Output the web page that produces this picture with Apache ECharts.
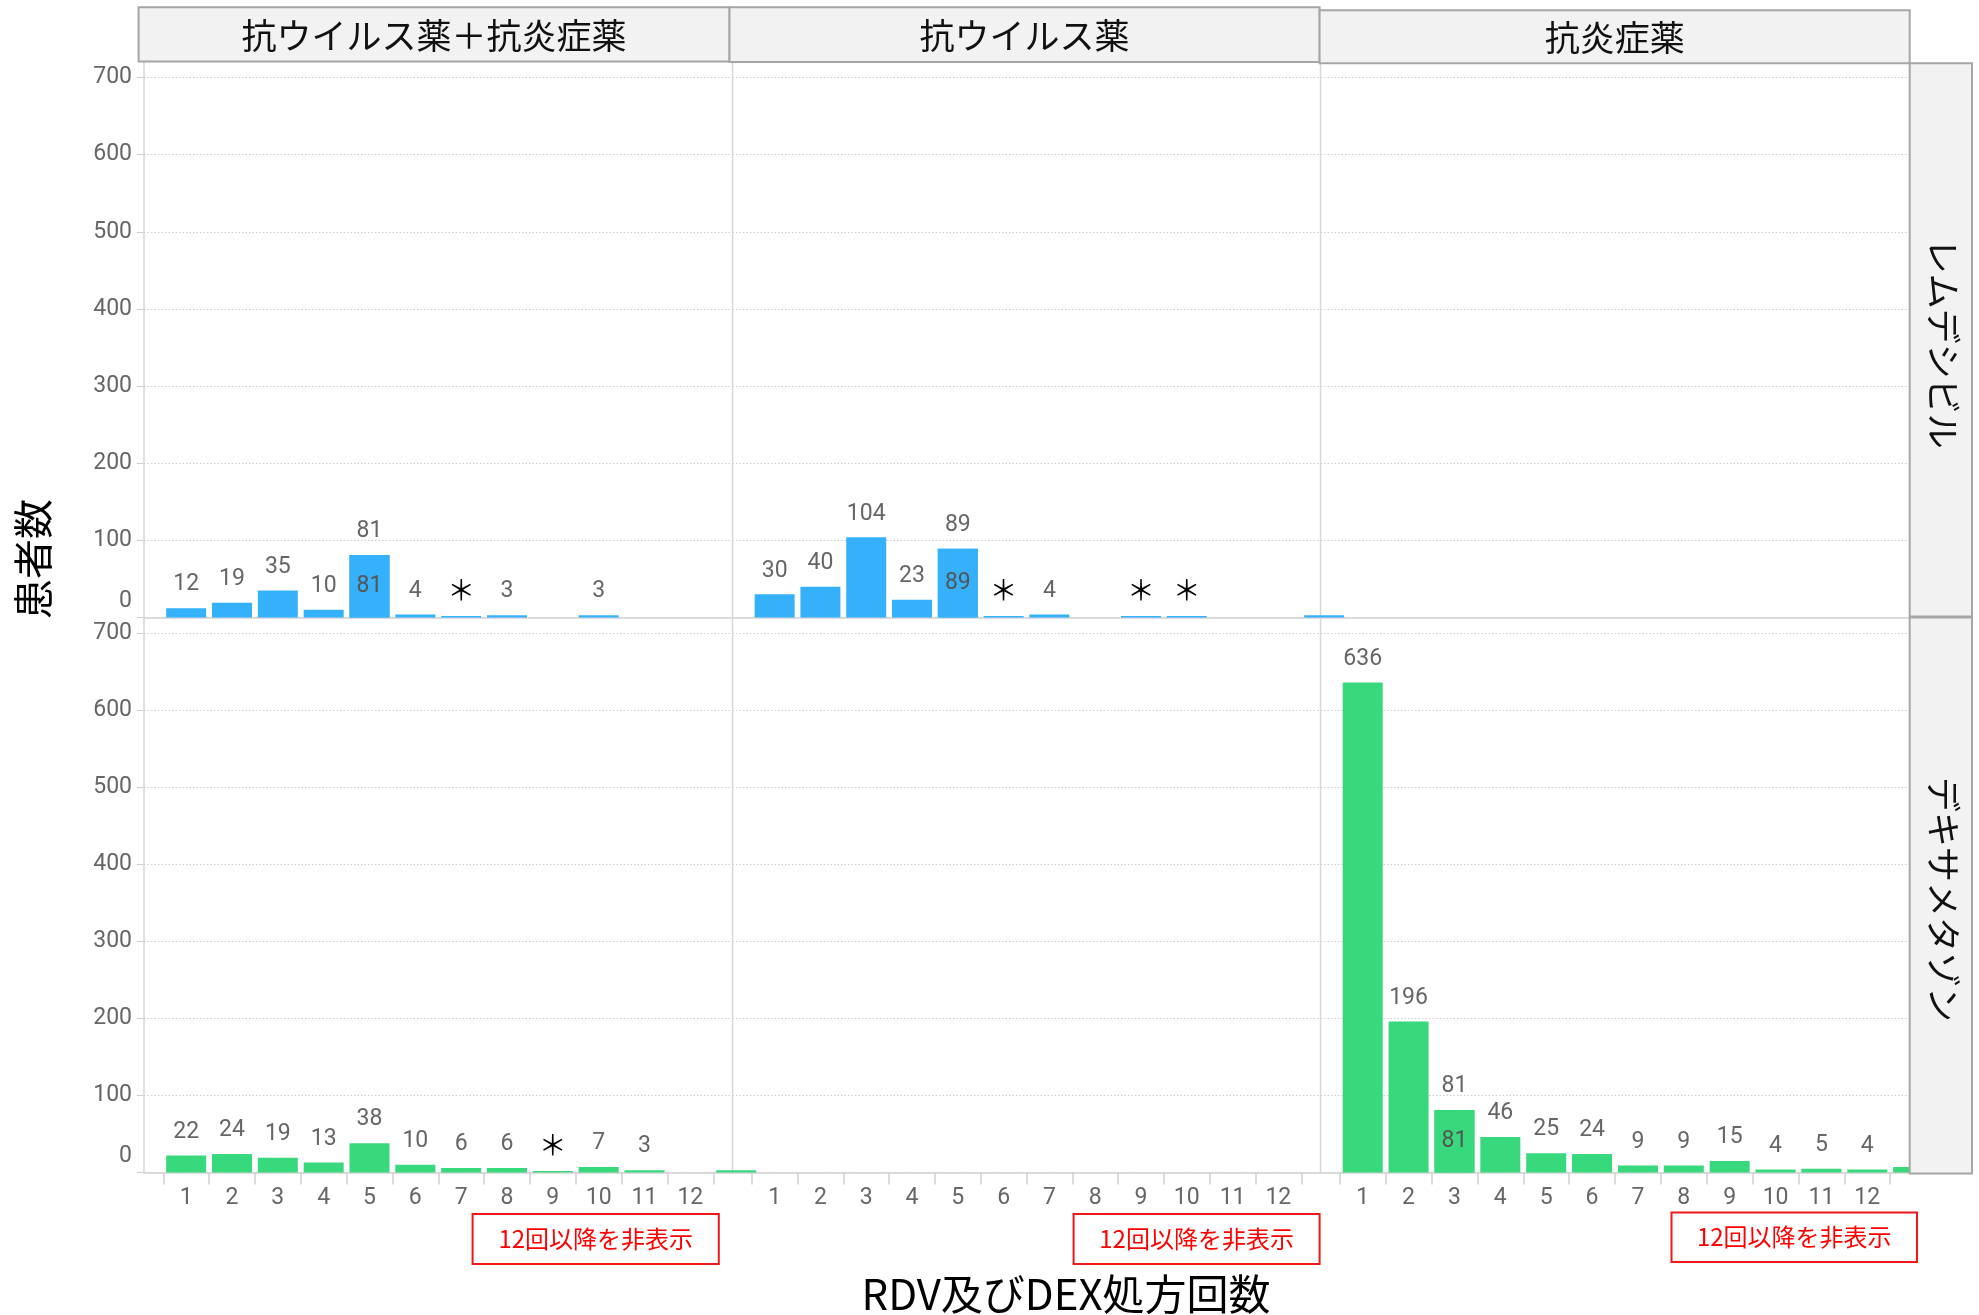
<!DOCTYPE html>
<html><head><meta charset="utf-8">
<script src="https://cdn.jsdelivr.net/npm/echarts@6/dist/echarts.min.js"></script>
<style>html,body{margin:0;padding:0;background:#fff}#c{width:1979px;height:1315px}</style>
</head><body><div id="c"></div>
<script>
// ---------- data ----------
const columnNames = ['抗ウイルス薬＋抗炎症薬', '抗ウイルス薬', '抗炎症薬'];
const rowNames = ['レムデシビル', 'デキサメタゾン'];
const counts = [1, 2, 3, 4, 5, 6, 7, 8, 9, 10, 11, 12, 13];      // 処方回数 (13 = cut off at the edge)
const xTickLabels = [1, 2, 3, 4, 5, 6, 7, 8, 9, 10, 11, 12];
const yTicks = [0, 100, 200, 300, 400, 500, 600, 700];
const xTitle = 'RDV及びDEX処方回数';
const yTitle = '患者数';
const hiddenNote = '12回以降を非表示';

// レムデシビル row
const rdvCombo      = [12, 19, 35, 10, 81, 4, 2, 3, null, 3, null, null, null];
const rdvAntiviral  = [30, 40, 104, 23, 89, 2, 4, null, 2, 2, null, null, 3];
const rdvAntiinflam = [null, null, null, null, null, null, null, null, null, null, null, null, null];
// デキサメタゾン row
const dexCombo      = [22, 24, 19, 13, 38, 10, 6, 6, 2, 7, 3, null, 3];
const dexAntiviral  = [null, null, null, null, null, null, null, null, null, null, null, null, null];
const dexAntiinflam = [636, 196, 81, 46, 25, 24, 9, 9, 15, 4, 5, 4, 7];

// counts whose value label is masked with "*"
const rdvComboMasked = [7];
const rdvAntiviralMasked = [6, 9, 10];
const dexComboMasked = [9];
// counts whose value is also printed inside the bar
const rdvComboInside = [5];
const rdvAntiviralInside = [5];
const dexAntiinflamInside = [3];

// ---------- layout ----------
const BLUE = '#35b0fb', GREEN = '#38d87c';
const colLeft = [144, 732.5, 1320.5];
const colWidth = [588.5, 588, 589];
const rowTop = [77.5, 633.2];
const rowHeight = [540, 539.3];
const xMin = 0.08, xMax = 12.92;
const NUM_FONT = 'Roboto';
const JP_FONT = '"Noto Sans CJK JP"';

const panels = [
  {row: 0, col: 0, values: rdvCombo, masked: rdvComboMasked, inside: rdvComboInside},
  {row: 0, col: 1, values: rdvAntiviral, masked: rdvAntiviralMasked, inside: rdvAntiviralInside},
  {row: 0, col: 2, values: rdvAntiinflam, masked: [], inside: []},
  {row: 1, col: 0, values: dexCombo, masked: dexComboMasked, inside: []},
  {row: 1, col: 1, values: dexAntiviral, masked: [], inside: []},
  {row: 1, col: 2, values: dexAntiinflam, masked: [], inside: dexAntiinflamInside}
];

const grids = [], xAxes = [], yAxes = [], series = [];
const tickBounds = xTickLabels.map(v => v - 0.5).concat([xTickLabels[xTickLabels.length - 1] + 0.5]);

panels.forEach((p, i) => {
  const color = p.row === 0 ? BLUE : GREEN;
  grids.push({left: colLeft[p.col], top: rowTop[p.row], width: colWidth[p.col], height: rowHeight[p.row], containLabel: false});
  xAxes.push({
    gridIndex: i, type: 'value', min: xMin, max: xMax,
    splitLine: {show: false},
    axisLine: {show: true, lineStyle: {color: '#d2d2d2', width: 1.5}},
    axisTick: p.row === 1 ? {show: true, customValues: tickBounds, length: 12, lineStyle: {color: '#cfcfcf', width: 1.5}} : {show: false},
    axisLabel: p.row === 1 ? {show: true, customValues: xTickLabels, fontSize: 23, color: '#666', fontFamily: NUM_FONT, margin: 14} : {show: false}
  });
  yAxes.push({
    gridIndex: i, type: 'value', min: 0, max: yTicks[yTicks.length - 1], interval: yTicks[1] - yTicks[0],
    axisLine: {show: false},
    axisTick: {show: p.col === 0, length: 7, lineStyle: {color: '#cfcfcf'}},
    axisLabel: {
      show: p.col === 0, fontSize: 23, color: '#666', fontFamily: NUM_FONT, margin: 12,
      formatter: v => v === 0 ? '{z|0}' : String(v),
      rich: {z: {fontSize: 23, color: '#666', fontFamily: NUM_FONT, padding: [0, 0, 32, 0]}}
    },
    splitLine: {show: true, lineStyle: {type: [1.5, 2], color: '#cdcdcd', width: 1}}
  });
  const data = [];
  p.values.forEach((v, k) => {
    if (v == null) return;
    const item = {value: [counts[k], v]};
    if (counts[k] > xMax) item.label = {show: false};
    data.push(item);
  });
  series.push({
    type: 'bar', xAxisIndex: i, yAxisIndex: i, barWidth: 40, barGap: '-100%', clip: true,
    itemStyle: {color: color},
    label: {
      show: true, position: 'top', distance: 12, fontSize: 23, color: '#666', fontFamily: NUM_FONT,
      formatter: prm => p.masked.includes(prm.value[0]) ? '{ast|＊}' : String(prm.value[1]),
      rich: {ast: {fontSize: 28, color: '#000', fontFamily: JP_FONT}}
    },
    data: data
  });
  const insideData = [];
  p.values.forEach((v, k) => {
    if (v != null && p.inside.includes(counts[k])) insideData.push({value: [counts[k], v]});
  });
  if (insideData.length) {
    series.push({
      type: 'bar', xAxisIndex: i, yAxisIndex: i, barWidth: 40, barGap: '-100%', clip: true,
      itemStyle: {color: color},
      label: {show: true, position: 'inside', fontSize: 23, color: '#555', fontFamily: NUM_FONT,
        formatter: prm => String(prm.value[1])},
      data: insideData
    });
  }
});

// ---------- frame graphics ----------
const graphics = [];
const HEADER_FILL = '#f2f2f2', HEADER_STROKE = '#a6a6a6';
// panel dividers
[144, 732.5, 1320.5].forEach(x => {
  graphics.push({type: 'line', z: 1, shape: {x1: x, y1: 62, x2: x, y2: 1172.5}, style: {stroke: '#d6d6d6', lineWidth: 1.5}});
});
// column headers
const colHeaders = [
  {x1: 138.6, x2: 729.5, y1: 7.3, y2: 61.5},
  {x1: 729.5, x2: 1319.6, y1: 7.3, y2: 62},
  {x1: 1319.6, x2: 1909.7, y1: 10.2, y2: 63.2}
];
colHeaders.forEach((h, c) => {
  graphics.push({type: 'rect', z: 5, shape: {x: h.x1, y: h.y1, width: h.x2 - h.x1, height: h.y2 - h.y1},
    style: {fill: HEADER_FILL, stroke: HEADER_STROKE, lineWidth: 2}});
  graphics.push({type: 'text', z: 6, x: (h.x1 + h.x2) / 2, y: (h.y1 + h.y2) / 2 + 1,
    style: {text: columnNames[c], fontSize: 35, fontFamily: JP_FONT, fill: '#111', align: 'center', verticalAlign: 'middle'}});
});
// row headers
const rowHeaders = [{y1: 63.2, y2: 616.5}, {y1: 617.5, y2: 1173.6}];
rowHeaders.forEach((h, r) => {
  graphics.push({type: 'rect', z: 5, shape: {x: 1909.7, y: h.y1, width: 62.3, height: h.y2 - h.y1},
    style: {fill: HEADER_FILL, stroke: HEADER_STROKE, lineWidth: 2}});
  graphics.push({type: 'text', z: 6, x: 1943, y: (h.y1 + h.y2) / 2 + 4, rotation: -Math.PI / 2,
    style: {text: rowNames[r], fontSize: 35, fontFamily: JP_FONT, fill: '#111', align: 'center', verticalAlign: 'middle'}});
});
// axis titles
graphics.push({type: 'text', z: 6, x: 33, y: 559, rotation: Math.PI / 2,
  style: {text: yTitle, fontSize: 40, fontFamily: JP_FONT, fill: '#000', align: 'center', verticalAlign: 'middle'}});
graphics.push({type: 'text', z: 6, x: 1066, y: 1294,
  style: {text: xTitle, fontSize: 42, fontFamily: JP_FONT, fill: '#000', align: 'center', verticalAlign: 'middle'}});
// red notes
const noteBoxes = [
  {x1: 472.6, x2: 718.8, y1: 1214, y2: 1264},
  {x1: 1073.6, x2: 1319.6, y1: 1214, y2: 1264},
  {x1: 1671.5, x2: 1917, y1: 1212.4, y2: 1262}
];
noteBoxes.forEach(b => {
  graphics.push({type: 'rect', z: 6, shape: {x: b.x1, y: b.y1, width: b.x2 - b.x1, height: b.y2 - b.y1},
    style: {fill: '#fff', stroke: '#f01818', lineWidth: 2}});
  graphics.push({type: 'text', z: 7, x: (b.x1 + b.x2) / 2, y: (b.y1 + b.y2) / 2,
    style: {text: hiddenNote, fontSize: 24, fontFamily: JP_FONT, fill: '#ff0000', align: 'center', verticalAlign: 'middle'}});
});

const chart = echarts.init(document.getElementById('c'), null, {renderer: 'canvas'});
chart.setOption({
  animation: false,
  backgroundColor: '#fff',
  grid: grids,
  xAxis: xAxes,
  yAxis: yAxes,
  series: series,
  graphic: {elements: graphics}
});
</script></body></html>
